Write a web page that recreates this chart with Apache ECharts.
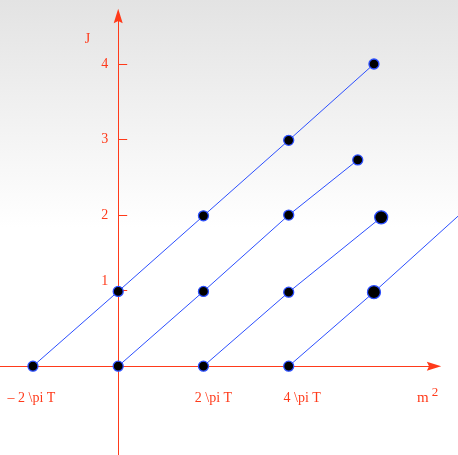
<!DOCTYPE html>
<html><head><meta charset="utf-8">
<script src="https://cdn.jsdelivr.net/npm/echarts@6/dist/echarts.min.js"></script>
<style>html,body{margin:0;padding:0;background:#fff}#c{width:458px;height:455px}</style>
</head><body><div id="c"></div>
<script>
// ---- data ----
const xTickValues = [-2, 2, 4];
const xTickLabels = ['– 2 \\pi T', '2 \\pi T', '4 \\pi T'];
const yTickValues = [1, 2, 3, 4];
const yTickLabels = ['1', '2', '3', '4'];
const trajectory1 = [[-2, 0], [0, 0.99], [2, 1.99], [4, 2.99], [6, 4]];
const trajectory2 = [[0, 0], [2, 0.99], [4, 2], [5.62, 2.73]];
const trajectory3 = [[2, 0], [4, 0.98], [6.17, 1.97]];
const trajectory4 = [[4, 0], [6, 0.98], [8, 2]];
const xAxisName = 'm';
const xAxisNameSup = '2';
const yAxisName = 'J';

// ---- styles / layout ----
const RED = '#ff3a1a';
const BLUE = '#2c4fff';
const FONT = '"Liberation Serif", "Times New Roman", serif';
const markerSizes = [[10, 10, 10, 10, 10], [10, 10, 10, 10], [10, 10, 13], [10, 13, 0]];
const xLabelStyleKeys = ['l0', 'r1', 'r2'];
const arrowPath = 'path://M5,0 L10,16 L5,13.5 L0,16 Z';

// pixel geometry of the scale: x=0 at 118.2px, 42.625 px/unit; y=0 at 366.2px, 75.55 px/unit
const W = 458, H = 455;
const X0 = 118.2, XU = 42.625, Y0 = 366.2, YU = 75.55;
const xAt = px => (px - X0) / XU;
const yAt = px => (Y0 - px) / YU;

const trajectories = [trajectory1, trajectory2, trajectory3, trajectory4];

const xMinTick = Math.min.apply(null, xTickValues);
const xMaxTick = Math.max.apply(null, xTickValues);
const yMaxTick = Math.max.apply(null, yTickValues);

const hidden = {axisLine: {show: false}, axisTick: {show: false}, axisLabel: {show: false}, splitLine: {show: false}};

const chart = echarts.init(document.getElementById('c'), null, {renderer: 'canvas'});
chart.setOption({
  animation: false,
  backgroundColor: new echarts.graphic.LinearGradient(0, 0, 0, 1, [
    {offset: 0, color: '#e3e3e3'},
    {offset: 0.5, color: '#ffffff'},
    {offset: 1, color: '#ffffff'}
  ]),
  grid: [
    // 0: axis lines with arrows
    {left: 0, right: 24, top: 16, bottom: 0, containLabel: false, outerBoundsMode: 'none'},
    // 1: data
    {left: 0, right: 0, top: 16, bottom: 0, containLabel: false, outerBoundsMode: 'none'},
    // 2: x tick labels
    {left: X0 + xMinTick * XU, right: W - (X0 + xMaxTick * XU), top: 16, bottom: H - Y0, containLabel: false, outerBoundsMode: 'none'},
    // 3: y ticks + labels
    {left: X0, right: 24, top: Y0 - yMaxTick * YU, bottom: H - Y0, containLabel: false, outerBoundsMode: 'none'}
  ],
  xAxis: [
    {
      gridIndex: 0, type: 'value', min: xAt(0), max: xAt(W - 24),
      splitLine: {show: false}, axisTick: {show: false}, axisLabel: {show: false},
      axisLine: {onZero: true, lineStyle: {color: RED, width: 1}, symbol: ['none', arrowPath], symbolSize: [9, 16]},
      name: xAxisName + '{s|' + xAxisNameSup + '}',
      nameLocation: 'end',
      nameGap: -17,
      nameTextStyle: {
        color: RED, fontFamily: FONT, fontSize: 15,
        align: 'left', verticalAlign: 'top', padding: [20, 0, 0, 0],
        rich: {s: {color: RED, fontFamily: FONT, fontSize: 13, padding: [0, 0, 10, 3]}}
      }
    },
    Object.assign({gridIndex: 1, type: 'value', min: xAt(0), max: xAt(W)}, hidden),
    {
      gridIndex: 2, type: 'value', min: xMinTick, max: xMaxTick, interval: 2, position: 'bottom',
      splitLine: {show: false}, axisTick: {show: false}, axisLine: {show: false},
      axisLabel: {
        show: true, margin: 25, showMinLabel: true, showMaxLabel: true,
        color: RED, fontFamily: FONT, fontSize: 14,
        formatter: function (v) {
          const k = xTickValues.indexOf(Number(v));
          return k < 0 ? '' : '{' + xLabelStyleKeys[k] + '|' + xTickLabels[k] + '}';
        },
        rich: {
          l0: {color: RED, fontFamily: FONT, fontSize: 14, padding: [0, 3, 0, 0]},
          r1: {color: RED, fontFamily: FONT, fontSize: 14, padding: [0, 0, 0, 20]},
          r2: {color: RED, fontFamily: FONT, fontSize: 14, padding: [0, 0, 0, 27]}
        }
      }
    },
    Object.assign({gridIndex: 3, type: 'value', min: 0, max: 1}, hidden)
  ],
  yAxis: [
    {
      gridIndex: 0, type: 'value', min: yAt(H), max: yAt(16),
      splitLine: {show: false}, axisTick: {show: false}, axisLabel: {show: false},
      axisLine: {onZero: true, lineStyle: {color: RED, width: 1}, symbol: ['none', arrowPath], symbolSize: [9, 17]},
      name: yAxisName,
      nameLocation: 'end',
      nameGap: -23,
      nameTextStyle: {color: RED, fontFamily: FONT, fontSize: 14, align: 'right', verticalAlign: 'middle', padding: [0, 28, 0, 0]}
    },
    Object.assign({gridIndex: 1, type: 'value', min: yAt(H), max: yAt(16)}, hidden),
    Object.assign({gridIndex: 2, type: 'value', min: 0, max: 1}, hidden),
    {
      gridIndex: 3, type: 'value', min: 0, max: yMaxTick, interval: 1, position: 'left',
      splitLine: {show: false},
      axisLine: {show: false},
      axisTick: {show: true, inside: true, length: 9, lineStyle: {color: RED, width: 1}},
      axisLabel: {
        show: true, margin: 10, showMinLabel: true, showMaxLabel: true,
        color: RED, fontFamily: FONT, fontSize: 14,
        formatter: function (v) {
          const k = yTickValues.indexOf(Number(v));
          if (k < 0) return '';
          return k === 0 ? '{lift|' + yTickLabels[k] + '}' : yTickLabels[k];
        },
        rich: {lift: {color: RED, fontFamily: FONT, fontSize: 14, padding: [0, 0, 18, 0]}}
      }
    }
  ],
  series: trajectories.map(function (d, si) {
    return {
      type: 'line',
      xAxisIndex: 1, yAxisIndex: 1,
      data: d,
      clip: false,
      silent: true,
      z: 3,
      lineStyle: {color: BLUE, width: 1},
      symbol: function (val, p) { return markerSizes[si][p.dataIndex] > 0 ? 'circle' : 'none'; },
      symbolSize: function (val, p) { return markerSizes[si][p.dataIndex]; },
      showAllSymbol: true,
      itemStyle: {color: '#000000', borderColor: BLUE, borderWidth: 1.3}
    };
  })
});
</script>
</body></html>
